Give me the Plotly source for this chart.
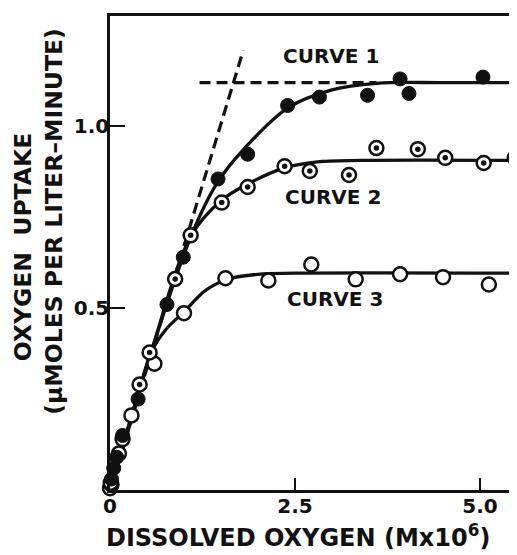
import plotly.graph_objects as go

# ---- data ----
# Curve 1 (filled circles)
c1_x = [0.02, 0.05, 0.09, 0.17, 0.38, 0.77, 0.99, 1.46, 1.86, 2.40, 2.83, 3.48, 3.92, 4.04, 5.04]
c1_y = [0.03, 0.06, 0.09, 0.15, 0.25, 0.51, 0.64, 0.855, 0.923, 1.057, 1.08, 1.085, 1.13, 1.09, 1.135]
# Curve 2 (dotted circles)
c2_x = [0.01, 0.17, 0.40, 0.535, 0.88, 1.09, 1.51, 1.86, 2.36, 2.70, 3.23, 3.60, 4.16, 4.53, 5.05, 5.47]
c2_y = [0.02, 0.14, 0.29, 0.378, 0.58, 0.70, 0.79, 0.833, 0.89, 0.877, 0.866, 0.94, 0.937, 0.913, 0.899, 0.913]
# Curve 3 (open circles)
c3_x = [0.0, 0.02, 0.12, 0.29, 0.60, 1.00, 1.56, 2.14, 2.72, 3.32, 3.92, 4.50, 5.12]
c3_y = [0.005, 0.015, 0.10, 0.205, 0.347, 0.486, 0.582, 0.576, 0.620, 0.579, 0.593, 0.585, 0.565]

# fitted curves
fit1_x = [0, 0.55, 1.1, 1.45, 1.8, 2.4, 3.0, 3.6, 4.5, 5.5]
fit1_y = [0, 0.375, 0.70, 0.845, 0.935, 1.05, 1.10, 1.118, 1.12, 1.12]
fit2_x = [0, 0.55, 1.1, 1.5, 1.85, 2.35, 2.8, 3.4, 5.5]
fit2_y = [0, 0.375, 0.70, 0.795, 0.84, 0.885, 0.902, 0.906, 0.906]
fit3_x = [0, 0.3, 0.56, 0.75, 1.0, 1.3, 1.6, 2.0, 2.5, 5.5]
fit3_y = [0, 0.2, 0.38, 0.44, 0.49, 0.55, 0.58, 0.593, 0.596, 0.596]

# dashed construction lines
slope_x = [0, 1.80]
slope_y = [0, 1.208]
plateau_x = [1.21, 3.6]
plateau_y = [1.12, 1.12]

labels = ["CURVE 1", "CURVE 2", "CURVE 3"]
label_x = [2.99, 3.01, 3.04]
label_y = [1.192, 0.806, 0.525]

x_ticks = [0, 2.5, 5.0]
x_ticklabels = ["0", "2.5", "5.0"]
y_ticks = [0.5, 1.0]
y_ticklabels = ["0.5", "1.0"]

FONT = "DejaVu Sans"
BLACK = "#111111"

fig = go.Figure()

line_style = dict(color=BLACK, width=3.3, shape="spline", smoothing=1.0)
for fx, fy in [(fit1_x, fit1_y), (fit2_x, fit2_y), (fit3_x, fit3_y)]:
    fig.add_trace(go.Scatter(x=fx, y=fy, mode="lines", line=line_style,
                             hoverinfo="skip", showlegend=False))

for dx, dy in [(slope_x, slope_y), (plateau_x, plateau_y)]:
    fig.add_trace(go.Scatter(x=dx, y=dy, mode="lines",
                             line=dict(color=BLACK, width=3.2, dash="11px,6px"),
                             hoverinfo="skip", showlegend=False))

# open circles (curve 3)
fig.add_trace(go.Scatter(x=c3_x, y=c3_y, mode="markers", cliponaxis=False,
                         marker=dict(symbol="circle", size=14, color="white",
                                     line=dict(color=BLACK, width=2.5)),
                         showlegend=False))
# dotted circles (curve 2)
fig.add_trace(go.Scatter(x=c2_x, y=c2_y, mode="markers", cliponaxis=False,
                         marker=dict(symbol="circle", size=14, color="white",
                                     line=dict(color=BLACK, width=2.5)),
                         showlegend=False))
fig.add_trace(go.Scatter(x=c2_x, y=c2_y, mode="markers", cliponaxis=False,
                         marker=dict(symbol="circle", size=5.5, color=BLACK,
                                     line=dict(width=0)),
                         showlegend=False))
# filled circles (curve 1)
fig.add_trace(go.Scatter(x=c1_x, y=c1_y, mode="markers", cliponaxis=False,
                         marker=dict(symbol="circle", size=14, color=BLACK,
                                     line=dict(color=BLACK, width=1)),
                         showlegend=False))

for t, lx, ly in zip(labels, label_x, label_y):
    fig.add_annotation(x=lx, y=ly, text=t, showarrow=False,
                       font=dict(family=FONT, size=20, color=BLACK, weight="bold"))

# y-axis title (two lines), rotated
fig.add_annotation(xref="paper", yref="paper", x=-0.2138, y=0.514, text="OXYGEN  UPTAKE",
                   textangle=-90, showarrow=False, xanchor="center", yanchor="middle",
                   font=dict(family=FONT, size=23.5, color=BLACK, weight="bold"))
fig.add_annotation(xref="paper", yref="paper", x=-0.1376, y=0.566,
                   text="(\u03bcMOLES PER LITER\u2013MINUTE)",
                   textangle=-90, showarrow=False, xanchor="center", yanchor="middle",
                   font=dict(family=FONT, size=23.5, color=BLACK, weight="bold"))
# x-axis title
fig.add_annotation(xref="paper", yref="paper", x=0.462, y=0, yshift=-46,
                   text="DISSOLVED OXYGEN (Mx10<sup>6</sup>)",
                   showarrow=False, xanchor="center", yanchor="middle",
                   font=dict(family=FONT, size=24, color=BLACK, weight="bold"))

fig.update_layout(
    width=517, height=555,
    margin=dict(l=102, r=8, t=5, b=73),
    paper_bgcolor="white", plot_bgcolor="white",
    font=dict(family=FONT, color=BLACK),
    xaxis=dict(
        range=[0, 5.5], tickvals=x_ticks, ticktext=x_ticklabels,
        ticks="inside", ticklen=12, tickwidth=2, tickcolor=BLACK,
        ticklabelstandoff=-4,
        showline=True, linewidth=2.5, linecolor=BLACK, mirror=True,
        showgrid=False, zeroline=False,
        tickfont=dict(family=FONT, size=20, color=BLACK, weight="bold"),
    ),
    yaxis=dict(
        range=[0, 1.303], tickvals=y_ticks, ticktext=y_ticklabels,
        ticks="inside", ticklen=15, tickwidth=2, tickcolor=BLACK,
        ticklabelstandoff=-6,
        showline=True, linewidth=2.5, linecolor=BLACK, mirror=False,
        showgrid=False, zeroline=False,
        tickfont=dict(family=FONT, size=20, color=BLACK, weight="bold"),
    ),
)

fig.write_html("out.html")
